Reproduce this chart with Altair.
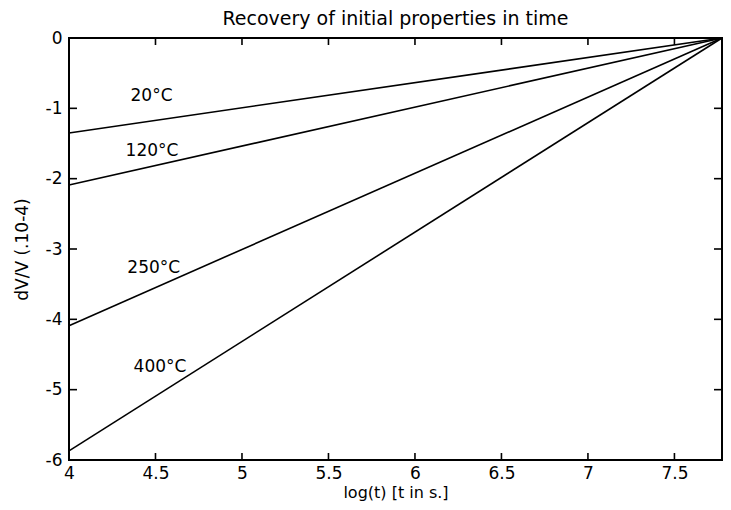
import altair as alt
import pandas as pd

# Data
series = ["20°C", "120°C", "250°C", "400°C"]
start_x = [4.0, 4.0, 4.0, 4.0]
start_y = [-1.35, -2.09, -4.09, -5.87]
end_x = [7.775, 7.775, 7.775, 7.775]
end_y = [0.0, 0.0, 0.0, 0.0]

label_x = [4.477, 4.48, 4.49, 4.526]
label_y = [-0.825, -1.607, -3.27, -4.68]

x_ticks = [4, 4.5, 5, 5.5, 6, 6.5, 7, 7.5]
y_ticks = [0, -1, -2, -3, -4, -5, -6]

W, H = 653, 422
FONT = "DejaVu Sans"

rows = []
for s, x0, y0, x1, y1 in zip(series, start_x, start_y, end_x, end_y):
    rows.append({"series": s, "x": x0, "y": y0})
    rows.append({"series": s, "x": x1, "y": y1})
lines_df = pd.DataFrame(rows)
labels_df = pd.DataFrame({"series": series, "x": label_x, "y": label_y})
xt_df = pd.DataFrame({"v": x_ticks})
yt_df = pd.DataFrame({"v": y_ticks})

xscale = alt.Scale(domain=[4, 7.775], nice=False, zero=False)
yscale = alt.Scale(domain=[-6, 0], nice=False, zero=False)

xaxis = alt.Axis(values=x_ticks, ticks=False, tickSize=0, grid=False, domain=False,
                 labelExpr="format(datum.value, '~g')",
                 labelFont=FONT, labelFontSize=17, labelColor="black",
                 labelBaseline="alphabetic", labelPadding=18, labelFlush=False,
                 title="log(t) [t in s.]", titleFont=FONT,
                 titleFontSize=16, titleFontWeight="normal", titleColor="black",
                 titlePadding=3)
yaxis = alt.Axis(values=y_ticks, ticks=False, tickSize=0, grid=False, domain=False,
                 labelExpr="datum.value < 0 ? '-' + format(-datum.value, '~g') : format(datum.value, '~g')",
                 labelFont=FONT, labelFontSize=17, labelColor="black",
                 labelPadding=7, labelFlush=False,
                 title="dV/V (.10-4)", titleFont=FONT,
                 titleFontSize=17, titleFontWeight="normal", titleColor="black",
                 titleX=-47, titleY=H / 2, titleAngle=270,
                 titleBaseline="middle", titleAlign="center")

lines = alt.Chart(lines_df).mark_line(color="black", strokeWidth=1.6).encode(
    x=alt.X("x:Q", scale=xscale, axis=xaxis),
    y=alt.Y("y:Q", scale=yscale, axis=yaxis),
    detail="series:N",
)

labels = alt.Chart(labels_df).mark_text(font=FONT, fontSize=17, color="black").encode(
    x=alt.X("x:Q", scale=xscale),
    y=alt.Y("y:Q", scale=yscale),
    text="series:N",
)

tick_bottom = alt.Chart(xt_df).mark_rule(color="black", strokeWidth=1.6).encode(
    x=alt.X("v:Q", scale=xscale), y=alt.value(H), y2=alt.value(H - 7))
tick_top = alt.Chart(xt_df).mark_rule(color="black", strokeWidth=1.6).encode(
    x=alt.X("v:Q", scale=xscale), y=alt.value(0), y2=alt.value(7))
tick_left = alt.Chart(yt_df).mark_rule(color="black", strokeWidth=1.6).encode(
    y=alt.Y("v:Q", scale=yscale), x=alt.value(0), x2=alt.value(8))
tick_right = alt.Chart(yt_df).mark_rule(color="black", strokeWidth=1.6).encode(
    y=alt.Y("v:Q", scale=yscale), x=alt.value(W), x2=alt.value(W - 8))

chart = alt.layer(lines, labels, tick_bottom, tick_top, tick_left, tick_right).properties(
    width=W, height=H,
    title=alt.TitleParams("Recovery of initial properties in time", font=FONT,
                          fontSize=19, fontWeight="normal", color="black",
                          offset=0),
    autosize=alt.AutoSizeParams(type="none"),
    padding={"left": 61, "top": 30, "right": 1, "bottom": 42},
    background="white",
).configure(view=alt.ViewConfig(stroke="black", strokeWidth=2))

chart.save("out.html", embed_options={"renderer": "svg", "actions": False})
